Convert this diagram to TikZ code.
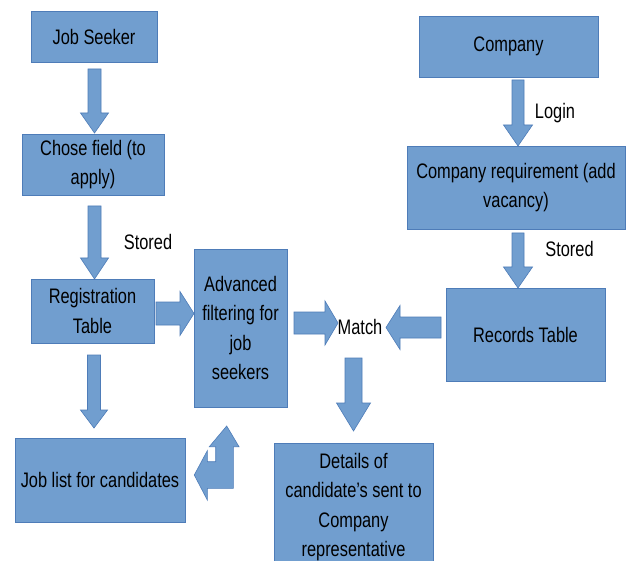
\documentclass[tikz,border=0pt]{standalone}
\usepackage{fontspec}
\setmainfont[FakeStretch=0.78]{Liberation Sans}
\definecolor{boxfill}{RGB}{113,158,207}
\definecolor{boxline}{RGB}{78,124,184}
\newcommand\barrow[6]{\filldraw[blockarr,shift={#1},rotate=#2] (0,-#4) -- ({#3-#6},-#4) -- ({#3-#6},-#5) -- (#3,0) -- ({#3-#6},#5) -- ({#3-#6},#4) -- (0,#4) -- cycle;}
\begin{document}
\begin{tikzpicture}[x=1pt,y=-1pt,
  box/.style={draw=boxline,fill=boxfill,line width=0.8pt,align=center,inner sep=0pt,
    font=\fontsize{21}{29.5}\selectfont},
  lbl/.style={inner sep=0pt,font=\fontsize{21}{29.5}\selectfont},
  blockarr/.style={draw=boxline,fill=boxfill,line width=0.6pt,line join=miter}]
\clip (0,0) rectangle (626,561);
\fill[white] (0,0) rectangle (626,561);
% boxes
\node[box,minimum width=126pt,minimum height=51pt] (js) at (94,36.5) {Job Seeker};
\node[box,minimum width=142pt,minimum height=61pt] (cf) at (93,164.5) {Chose field (to\\apply)};
\node[box,minimum width=123pt,minimum height=64pt] (rt) at (92.5,311) {Registration\\Table};
\node[box,minimum width=93pt,minimum height=158pt] (af) at (240.5,328) {Advanced\\filtering for\\job\\seekers};
\node[box,minimum width=170pt,minimum height=84pt] (jl) at (100,480) {Job list for candidates};
\node[box,minimum width=159pt,minimum height=128pt] (dc) at (353.5,507) {Details of\\candidate’s sent to\\Company\\representative};
\node[box,minimum width=159pt,minimum height=93pt] (rec) at (525.5,334.5) {Records Table};
\node[box,minimum width=179pt,minimum height=61pt] (co) at (508.5,46.5) {Company};
\node[box,minimum width=218pt,minimum height=83pt] (cr) at (516,187.5) {Company requirement (add\\vacancy)};
% labels
\node[lbl] (st1) at (148,242) {Stored};
\node[lbl] (st2) at (569.5,249) {Stored};
\node[lbl] (lg) at (555,113) {Login};
\node[lbl] (mt) at (360,327) {Match};
% block arrows
\barrow{(94.5,69)}{-90}{64}{6.5}{14}{20}
\barrow{(94.5,206)}{-90}{73}{6.5}{14}{21}
\barrow{(156,313.5)}{0}{38}{11.5}{22}{14}
\barrow{(94,355)}{-90}{73}{6.5}{13.5}{18}
\barrow{(294,323)}{0}{44}{11}{22}{13}
\barrow{(441,327.5)}{180}{55}{10.5}{22}{14}
\barrow{(353.5,358)}{-90}{73}{8.5}{17}{28}
\barrow{(518,80)}{-90}{66}{6}{14.5}{21}
\barrow{(518,233)}{-90}{55}{6}{14.5}{21}
% bent arrow
\filldraw[blockarr] (226.7,426) -- (239,446.7) -- (233.3,446.7) -- (233.3,488.3) -- (207.3,488.3) -- (207.3,500) -- (194.3,475) -- (207.3,450.7) -- (207.3,461.7) -- (215.7,461.7) -- (215.7,446.7) -- (209.3,446.7) -- cycle;
\end{tikzpicture}
\end{document}
